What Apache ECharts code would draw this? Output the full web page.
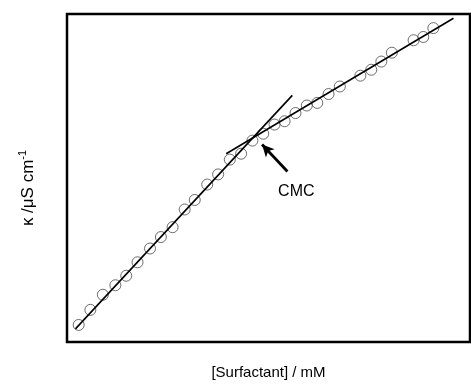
<!DOCTYPE html>
<html>
<head>
<meta charset="utf-8">
<script src="https://cdn.jsdelivr.net/npm/echarts@6/dist/echarts.min.js"></script>
<style>html,body{margin:0;padding:0;background:#fff}#c{width:471px;height:385px}</style>
</head>
<body>
<div id="c"></div>
<script>
// Measured conductivity data (arbitrary units)
var concentration = [0.29,0.58,0.89,1.20,1.47,1.75,2.06,2.33,2.62,2.92,3.17,3.48,3.75,4.04,4.32,4.60,4.87,5.15,5.40,5.67,5.95,6.21,6.49,6.77,7.28,7.55,7.80,8.06,8.60,8.84,9.09];
var conductivity = [52,98,144,173,202,243,285,320,350,404,433,480,511,556,574,614,635,663,673,698,721,729,756,779,812,830,855,882,920,930,957];
// Linear fits (end points)
var fitPreX = [0.21, 5.59];
var fitPreY = [40, 752];
var fitPostX = [3.95, 9.59];
var fitPostY = [574, 987];
// CMC annotation
var arrowFrom = [5.47, 520];
var arrowTo = [4.84, 602];
var cmcLabelPos = [5.69, 460];
var cmcText = 'CMC';
var xTitle = '[Surfactant] / mM';

function pairs(xs, ys){ return xs.map(function(x,i){ return [x, ys[i]]; }); }

var chart = echarts.init(document.getElementById('c'));
var font = 'Liberation Sans, Arial, sans-serif';
chart.setOption({
  animation: false,
  backgroundColor: '#fff',
  grid: {left: 67, right: 1, top: 14, bottom: 42, show: true, borderColor: '#000', borderWidth: 2.5, backgroundColor: 'transparent'},
  xAxis: {type: 'value', min: 0, max: 10, axisLine: {show: false}, axisTick: {show: false}, axisLabel: {show: false}, splitLine: {show: false},
    name: xTitle, nameLocation: 'middle', nameGap: 23, nameTextStyle: {fontFamily: font, fontSize: 15, color: '#000'}},
  yAxis: {type: 'value', min: 0, max: 1000, axisLine: {show: false}, axisTick: {show: false}, axisLabel: {show: false}, splitLine: {show: false}},
  series: [
    {type: 'line', data: pairs(fitPreX, fitPreY), showSymbol: false, symbol: 'none', lineStyle: {color: '#000', width: 1.6}, z: 3},
    {type: 'line', data: pairs(fitPostX, fitPostY), showSymbol: false, symbol: 'none', lineStyle: {color: '#000', width: 1.6}, z: 3,
      markLine: {silent: true, symbol: ['none', 'arrow'], symbolSize: [9, 12], label: {show: false},
        lineStyle: {color: '#000', width: 2.8, type: 'solid'},
        data: [[{coord: arrowFrom}, {coord: arrowTo}]]}},
    {type: 'scatter', data: pairs(concentration, conductivity), symbol: 'circle', symbolSize: 11,
      itemStyle: {color: 'rgba(255,255,255,0)', borderColor: '#4a4a4a', borderWidth: 1}, z: 2}
  ]
});
var cmcPx = chart.convertToPixel({gridIndex: 0}, cmcLabelPos);
chart.setOption({
  graphic: [{
    type: 'text', x: 28, y: 188, rotation: Math.PI/2,
    style: {
      text: '{a|κ /μS cm}{s|-1}',
      align: 'center', verticalAlign: 'middle',
      rich: {
        a: {fontFamily: font, fontSize: 17, fill: '#000'},
        s: {fontFamily: font, fontSize: 11, fill: '#000', padding: [0,0,10,0]}
      }
    }
  }, {
    type: 'text', x: cmcPx[0], y: cmcPx[1],
    style: {text: cmcText, fontFamily: font, fontSize: 16, fill: '#000', align: 'center', verticalAlign: 'middle'}
  }]
});
</script>
</body>
</html>
